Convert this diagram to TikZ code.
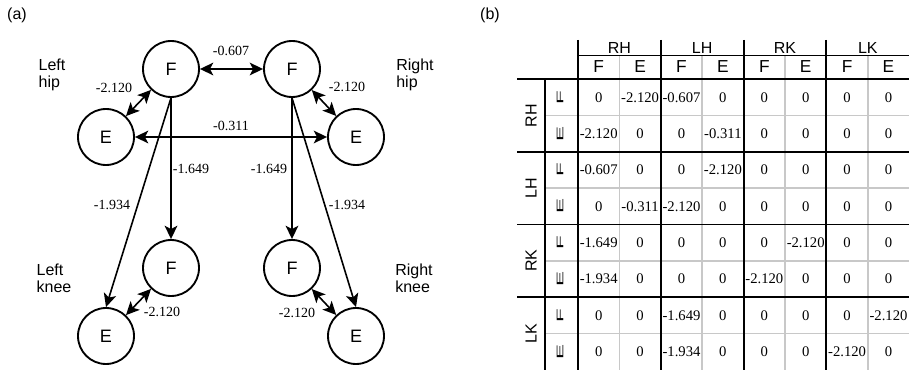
\documentclass[tikz,border=0pt]{standalone}
\usepackage{fontspec}
\setmainfont{Liberation Serif}
\setsansfont{Liberation Sans}
\usepackage{tikz}
\usetikzlibrary{arrows.meta}
\definecolor{cellgrey}{RGB}{200,200,200}

\begin{document}
\begin{tikzpicture}[x=0.75pt,y=-0.75pt,
  muscle/.style={circle,draw,line width=1.4pt,minimum size=42pt,inner sep=0pt,font=\sffamily\fontsize{13.5}{16}\selectfont},
  link/.style={line width=1.2pt,{Stealth[length=10pt,width=9.5pt,inset=2.5pt]}-{Stealth[length=10pt,width=9.5pt,inset=2.5pt]}},
  drive/.style={line width=1.2pt,-{Stealth[length=10pt,width=9.5pt,inset=2.5pt]}},
  wval/.style={font=\fontsize{10.5}{12}\selectfont,inner sep=0pt},
  joint/.style={font=\sffamily\fontsize{12}{13}\selectfont,align=left,inner sep=0pt},
  thead/.style={font=\sffamily\fontsize{12}{14}\selectfont,inner sep=0pt},
  fehead/.style={font=\sffamily\fontsize{13}{14}\selectfont,inner sep=0pt},
  tval/.style={font=\fontsize{11}{12}\selectfont,inner sep=0pt},
  rule/.style={line width=1.4pt},
  gridline/.style={cellgrey,line width=1.1pt}]
  \useasboundingbox (0,0) rectangle (909,370);

  % (a) muscle network
  \node[thead] (pa) at (17,15) {(a)};
  \node[muscle] (flh) at (171,69) {F};
  \node[muscle] (frh) at (292,69) {F};
  \node[muscle] (elh) at (106,137) {E};
  \node[muscle] (erh) at (356,137) {E};
  \node[muscle] (flk) at (171,268) {F};
  \node[muscle] (frk) at (292,268) {F};
  \node[muscle] (elk) at (106,336) {E};
  \node[muscle] (erk) at (356,336) {E};

  \node[joint] (lhip) at (52,75) {Left\\hip};
  \node[joint] (rhip) at (415,75) {Right\\hip};
  \node[joint] (lknee) at (54,278) {Left\\knee};
  \node[joint] (rknee) at (414,278) {Right\\knee};

  \draw[link] (flh) -- (frh);
  \draw[link] (elh) -- (erh);
  \draw[link] (flh) -- (elh);
  \draw[link] (frh) -- (erh);
  \draw[link] (flk) -- (elk);
  \draw[link] (frk) -- (erk);
  \draw[drive] (flh) -- (flk);
  \draw[drive] (frh) -- (frk);
  \draw[drive] (flh.south) -- (elk.north);
  \draw[drive] (frh.south) -- (erk.north);

  \node[wval] (w-hh-f) at (231,51) {-0.607};
  \node[wval] (w-hh-e) at (231,126) {-0.311};
  \node[wval] (w-lh) at (114,88) {-2.120};
  \node[wval] (w-rh) at (347,87) {-2.120};
  \node[wval] (w-lf) at (191,169) {-1.649};
  \node[wval] (w-rf) at (269,169) {-1.649};
  \node[wval] (w-le) at (112,205) {-1.934};
  \node[wval] (w-re) at (347,205) {-1.934};
  \node[wval] (w-lk) at (162,312) {-2.120};
  \node[wval] (w-rk) at (297,313) {-2.120};

  % (b) weight matrix
  \node[thead] (pb) at (490,15) {(b)};
  \def\tblx{578}
  \def\tbly{79.3}
  \def\cw{41.4}
  \def\rh{36.3}
  \foreach \k in {1,...,4} {
    \draw[gridline] ({\tblx+\cw*(2*\k-1)},55.5) -- ({\tblx+\cw*(2*\k-1)},370);
    \draw[gridline] (545,{\tbly+\rh*(2*\k-1)}) -- (909,{\tbly+\rh*(2*\k-1)});
  }
  \foreach \k in {0,...,3}
    \draw[rule] ({\tblx+2*\cw*\k},40) -- ({\tblx+2*\cw*\k},370);
  \foreach \k in {1,...,3}
    \draw[rule] (517,{\tbly+2*\rh*\k}) -- (909,{\tbly+2*\rh*\k});
  \draw[rule] (\tblx,55.5) -- (909,55.5);
  \draw[rule] (517,\tbly) -- (909,\tbly);
  \draw[rule] (545,\tbly) -- (545,370);

  \foreach \g [count=\k] in {RH,LH,RK,LK} {
    \node[thead] (col-\g) at ({\tblx+\cw*(2*\k-1)},48) {\g};
    \node[fehead] (col-\g-F) at ({\tblx+\cw*(2*\k-1.5)},67) {F};
    \node[fehead] (col-\g-E) at ({\tblx+\cw*(2*\k-0.5)},67) {E};
    \node[thead,rotate=90] (row-\g) at (531,{\tbly+\rh*(2*\k-1)}) {\g};
    \node[fehead,rotate=90] (row-\g-F) at (560,{\tbly+\rh*(2*\k-1.5)}) {\scalebox{1.3}[0.55]{F}};
    \node[fehead,rotate=90] (row-\g-E) at (560,{\tbly+\rh*(2*\k-0.5)}) {\scalebox{1.3}[0.55]{E}};
  }

  \foreach \vals [count=\ri] in {
      {0,-2.120,-0.607,0,0,0,0,0},
      {-2.120,0,0,-0.311,0,0,0,0},
      {-0.607,0,0,-2.120,0,0,0,0},
      {0,-0.311,-2.120,0,0,0,0,0},
      {-1.649,0,0,0,0,-2.120,0,0},
      {-1.934,0,0,0,-2.120,0,0,0},
      {0,0,-1.649,0,0,0,0,-2.120},
      {0,0,-1.934,0,0,0,-2.120,0}} {
    \foreach \v [count=\ci] in \vals
      \node[tval] (m-\ri-\ci) at ({\tblx+\cw*(\ci-0.5)},{\tbly+\rh*(\ri-0.5)}) {\v};
  }
\end{tikzpicture}
\end{document}
